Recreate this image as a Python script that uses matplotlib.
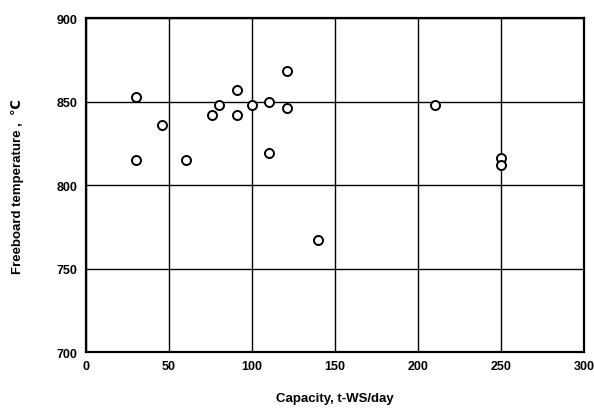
import matplotlib
matplotlib.use('Agg')
import matplotlib.pyplot as plt

# ── Data ───────────────────────────────────────────────────────────────────
capacity = [30, 30, 46, 60, 76, 80, 91, 91, 100, 110, 110, 121, 121, 140, 210, 250, 250]
freeboard_temp = [853, 815, 836, 815, 842, 848, 857, 842, 848, 850, 819, 868, 846, 767, 848, 816, 812]

x_ticks = [0, 50, 100, 150, 200, 250, 300]
y_ticks = [700, 750, 800, 850, 900]

plt.rcParams['font.family'] = ['Liberation Sans', 'DejaVu Sans']

fig = plt.figure(figsize=(5.94, 4.14), dpi=100)
ax = fig.add_axes([0.145, 0.147, 0.838, 0.807])

ax.grid(True, color='black', linewidth=1.0)
ax.set_axisbelow(True)

ax.plot(capacity, freeboard_temp, linestyle='none', marker='o', markersize=6.5,
        markerfacecolor='white', markeredgecolor='black', markeredgewidth=1.4,
        zorder=3)

ax.set_xlim(0, 300)
ax.set_ylim(700, 900)
ax.set_xticks(x_ticks)
ax.set_yticks(y_ticks)
ax.tick_params(length=0, labelsize=9, pad=6)
for lbl in ax.get_xticklabels() + ax.get_yticklabels():
    lbl.set_fontweight('bold')

for s in ax.spines.values():
    s.set_linewidth(1.6)

ax.set_xlabel('Capacity, t-WS/day', fontsize=9.5, fontweight='bold')
ax.xaxis.set_label_coords(0.5, -0.12)
ax.set_ylabel('Freeboard temperature ,  \u2103', fontsize=9.5, fontweight='bold')
ax.yaxis.set_label_coords(-0.125, 0.5)

fig.savefig('out.png', dpi=100)
